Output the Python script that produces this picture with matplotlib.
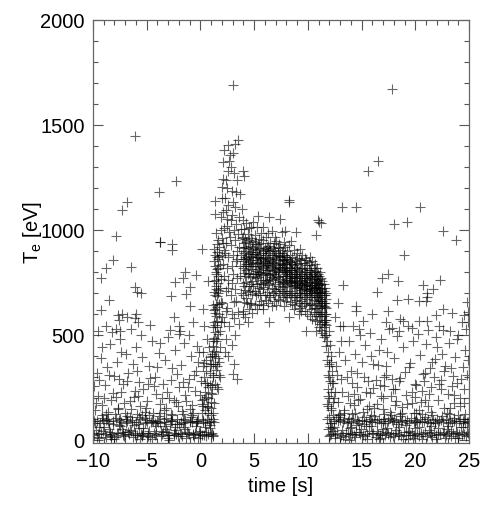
import matplotlib
matplotlib.use('Agg')
from matplotlib import pyplot as plt
from matplotlib.ticker import MultipleLocator

plt.rcParams['font.family'] = ['Liberation Sans', 'DejaVu Sans']
plt.rcParams['mathtext.default'] = 'regular'

# (time [s], Te [eV]), grouped by region

# low noise band before the discharge
pre_band = [
    (-9.9, 22), (-9.6, 88), (-9.3, 31), (-9.1, 95), (-8.8, 15), (-8.5, 78), (-8.2, 27), (-7.9, 102), (-7.7, 35), (-7.4, 84),
    (-7.1, 19), (-6.8, 92), (-6.5, 40), (-6.2, 71), (-5.9, 25), (-5.6, 98), (-5.3, 33), (-5.0, 86), (-4.7, 12), (-4.4, 90),
    (-4.1, 28), (-3.8, 81), (-3.5, 37), (-3.2, 104), (-2.9, 21), (-2.6, 88), (-2.3, 30), (-2.0, 76), (-1.7, 18), (-1.4, 93),
    (-1.1, 26), (-0.8, 85), (-0.5, 34), (-0.2, 99), (0.1, 23), (0.4, 80), (0.7, 29), (1.0, 91), (1.2, 17), (-9.7, 45),
    (-9.4, 8), (-9.0, 62), (-8.7, 100), (-8.4, 36), (-8.0, 5), (-7.6, 93), (-7.3, 50), (-7.0, 28), (-6.6, 110), (-6.3, 14),
    (-6.0, 87), (-5.7, 57), (-5.4, 22), (-5.1, 96), (-4.8, 41), (-4.5, 3), (-4.2, 79), (-3.9, 112), (-3.6, 26), (-3.3, 66),
    (-3.0, 9), (-2.7, 94), (-2.4, 48), (-2.1, 20), (-1.8, 83), (-1.5, 60), (-1.2, 31), (-0.9, 107), (-0.6, 13), (-0.3, 89),
    (0.0, 44), (0.3, 24), (0.6, 97), (0.9, 55), (1.1, 33), (1.3, 86), (-9.8, 78), (-9.5, 30), (-9.2, 105), (-8.9, 27),
    (-8.6, 90), (-8.3, 18), (-8.1, 74), (-7.8, 32), (-7.5, 99), (-7.2, 24), (-6.9, 81), (-6.7, 36), (-6.4, 93), (-6.1, 21),
    (-5.8, 77), (-5.5, 29), (-5.2, 103), (-4.9, 16), (-4.6, 84), (-4.3, 35), (-4.0, 92), (-3.7, 19), (-3.4, 87), (-3.1, 38),
    (-2.8, 75), (-2.5, 23), (-2.2, 98), (-1.9, 34), (-1.6, 82), (-1.3, 11), (-1.0, 91), (-0.7, 27), (-0.4, 78), (-0.1, 37),
    (0.2, 94), (0.5, 20), (0.8, 84), (1.0, 30), (1.2, 101), (-10.0, 33), (-9.95, 92), (-9.65, 15), (-9.35, 82), (-9.05, 40),
    (-8.75, 96), (-8.45, 24), (-8.15, 88), (-7.85, 12), (-7.55, 70), (-7.25, 38), (-6.95, 97), (-6.65, 26), (-6.35, 85), (-6.05, 31),
    (-5.75, 108), (-5.45, 18), (-5.15, 79), (-4.85, 34), (-4.55, 95), (-4.25, 25), (-3.95, 86), (-3.65, 40), (-3.35, 99), (-3.05, 22),
    (-2.75, 88), (-2.45, 32), (-2.15, 77), (-1.85, 27), (-1.55, 100), (-1.25, 36), (-0.95, 83), (-0.65, 21), (-0.35, 92), (-0.05, 29),
    (0.25, 86), (0.55, 38), (0.85, 73), (1.15, 24), (-9.45, 60), (-8.55, 52), (-7.45, 64), (-6.55, 48), (-5.35, 58), (-4.15, 65),
    (-3.25, 54), (-2.35, 63), (-1.45, 50), (-0.45, 67), (0.45, 59), (-9.15, 118), (-7.95, 122), (-6.85, 115), (-5.95, 125), (-4.75, 119),
    (-3.75, 128), (-2.65, 116), (-1.65, 124), (-0.75, 118), (0.15, 127), (0.95, 120), (-8.35, 2), (-5.65, 6), (-2.95, 1), (-0.25, 7),
]

# scatter above the band before the discharge
pre_scatter = [
    (-9.8, 140), (-9.5, 210), (-9.2, 165), (-8.9, 260), (-8.6, 135), (-8.3, 190), (-8.0, 305), (-7.7, 150), (-7.4, 230), (-7.1, 175),
    (-6.8, 280), (-6.5, 145), (-6.2, 205), (-5.9, 330), (-5.6, 160), (-5.3, 240), (-5.0, 185), (-4.7, 295), (-4.4, 130), (-4.1, 220),
    (-3.8, 170), (-3.5, 265), (-3.2, 150), (-2.9, 200), (-2.6, 340), (-2.3, 180), (-2.0, 250), (-1.7, 138), (-1.4, 215), (-1.1, 290),
    (-0.8, 165), (-0.5, 235), (-0.2, 370), (0.1, 190), (0.4, 270), (0.7, 155), (1.0, 225), (1.2, 310), (-9.9, 255), (-9.6, 320),
    (-9.3, 390), (-9.0, 200), (-8.7, 345), (-8.4, 455), (-8.1, 225), (-7.8, 370), (-7.5, 480), (-7.2, 265), (-6.9, 410), (-6.6, 185),
    (-6.3, 360), (-6.0, 440), (-5.7, 275), (-5.4, 395), (-5.1, 150), (-4.8, 350), (-4.5, 470), (-4.2, 300), (-3.9, 415), (-3.6, 200),
    (-3.3, 380), (-3.0, 490), (-2.7, 285), (-2.4, 430), (-2.1, 160), (-1.8, 355), (-1.5, 460), (-1.2, 250), (-0.9, 400), (-0.6, 310),
    (-0.3, 445), (0.0, 215), (0.3, 365), (0.6, 480), (0.9, 260), (1.1, 400), (-9.7, 175), (-8.8, 125), (-7.9, 205), (-7.0, 128),
    (-6.1, 235), (-5.2, 132), (-4.3, 255), (-3.4, 140), (-2.5, 190), (-1.6, 275), (-0.7, 128), (0.2, 160), (1.25, 175), (-9.4, 285),
    (-8.5, 310), (-7.6, 290), (-6.7, 320), (-5.8, 210), (-4.9, 265), (-4.0, 345), (-3.1, 230), (-2.2, 315), (-1.3, 185), (-0.4, 330),
    (0.5, 205), (-9.15, 440), (-7.35, 420), (-5.55, 500), (-3.75, 460), (-1.95, 505), (-0.15, 420), (0.85, 350), (-8.25, 515), (-6.45, 530),
    (-2.85, 525), (0.35, 540), (-9.55, 520), (-4.65, 545), (-1.05, 500), (-7.65, 145), (-5.45, 120), (-2.75, 122), (-0.95, 148), (0.75, 130),
    (0.2, 420), (0.5, 380), (0.8, 440), (1.0, 360), (0.3, 300), (0.6, 270), (0.9, 320), (1.1, 260), (0.4, 230), (0.7, 200),
    (1.0, 180), (0.15, 170), (0.45, 140), (0.75, 250), (1.05, 220), (0.55, 330), (0.85, 395), (1.15, 470), (0.25, 350), (0.95, 150),
    (0.65, 160), (1.2, 130), (0.35, 195), (1.1, 410), (0.05, 280),
]

pre_high = [
    (-7.9, 971), (-8.1, 857), (-8.8, 819), (-9.3, 771), (-6.5, 824), (-3.8, 943), (-2.6, 933), (-2.6, 905), (0.1, 910), (-1.4, 800),
    (-0.4, 786), (-1.6, 771), (-2.4, 752), (0.7, 757), (-6.1, 729), (-5.9, 705), (-5.5, 700), (-1.0, 729), (-1.3, 695), (-2.7, 686),
    (-8.5, 667), (-1.0, 638), (0.2, 624), (-9.3, 619), (-2.5, 586), (-0.7, 562), (-7.7, 595), (-7.3, 600), (-7.6, 570), (-6.8, 585),
    (-6.0, 600), (-6.1, 580), (-5.8, 560), (-8.8, 543), (-7.9, 530), (-7.5, 520), (-2.0, 543), (-1.9, 520),
    (-6.09, 1448), (-3.85, 1181), (-2.27, 1235), (-6.86, 1135), (-7.3, 1097), (-3.76, 944),
]

# rising edge of the discharge
rise_column = [
    (1.18, 300), (1.32, 362), (1.44, 418), (1.22, 483), (1.57, 538), (1.36, 603), (1.48, 647), (1.27, 702), (1.61, 748), (1.41, 801),
    (1.29, 853), (1.53, 897), (1.66, 952), (1.47, 331), (1.63, 392), (1.15, 447), (1.38, 512), (1.58, 568), (1.24, 618), (1.52, 683),
    (1.43, 733), (1.68, 779), (1.34, 828), (1.51, 872), (1.74, 918), (1.42, 983), (1.31, 268), (1.54, 252), (1.69, 308), (1.79, 442),
    (1.86, 518), (1.73, 601), (1.91, 658), (1.78, 722), (1.96, 768), (1.84, 833), (2.02, 882), (2.07, 938), (1.93, 1002), (1.28, 563),
    (1.46, 588), (1.21, 641), (1.39, 689), (1.59, 712), (1.26, 758), (1.49, 792), (1.64, 818), (1.37, 881), (1.56, 933), (1.23, 908),
    (1.62, 862), (1.45, 471), (1.33, 398), (1.55, 351), (1.72, 372), (1.67, 503), (1.88, 562), (1.76, 648), (1.19, 538), (1.35, 622),
    (1.4, 547), (1.57, 633), (1.63, 698), (1.41, 762), (1.53, 812), (1.71, 878), (1.17, 362), (1.3, 421), (1.47, 718), (1.58, 482),
]

# early peak of the discharge
peak = [
    (2.1, 1324), (2.57, 1405), (3.0, 1367), (2.75, 1357), (3.5, 1428), (2.6, 1281), (4.0, 1281), (4.05, 1257), (2.1, 1243), (2.0, 1205),
    (2.5, 1200), (2.9, 1186), (3.7, 1171), (1.36, 1138), (3.0, 1133), (1.36, 1076), (2.1, 1086), (3.9, 1100), (2.3, 1150), (2.6, 1120),
    (3.3, 1180), (2.4, 1240), (2.8, 1300), (3.1, 1270), (2.2, 1380), (1.9, 1060), (2.5, 1050), (2.9, 1070), (3.3, 1030), (3.6, 1060),
    (2.2, 1010), (2.7, 990), (3.1, 1000), (3.5, 980), (2.0, 960), (2.4, 940), (2.8, 930), (3.2, 950), (3.6, 920), (4.1, 940),
    (2.3, 890), (2.6, 870), (3.0, 880), (3.4, 900), (3.8, 880), (2.1, 840), (2.5, 820), (2.9, 830), (3.3, 850), (3.7, 830),
    (4.2, 860), (2.2, 780), (2.6, 760), (3.0, 790), (3.4, 770), (2.4, 710), (2.8, 690), (3.2, 720), (2.0, 650), (2.5, 630),
    (2.9, 600), (3.3, 660), (2.2, 560), (2.7, 540), (3.1, 580), (3.5, 610), (2.4, 480), (2.9, 450), (3.2, 500), (3.0, 314),
    (3.4, 290), (2.6, 400), (3.1, 360), (2.3, 420), (1.8, 300), (1.6, 243), (3.6, 550), (4.0, 600), (4.3, 650), (3.8, 700),
    (3.04, 1690), (3.2, 1410), (2.7, 1330), (3.4, 1240), (2.0, 1150), (2.35, 1095), (2.85, 1045), (3.25, 1110), (2.45, 1020), (3.75, 1005),
    (2.15, 905), (2.75, 965), (3.45, 860), (2.55, 725), (3.15, 655), (2.05, 585), (3.65, 780), (2.95, 745), (2.35, 615), (3.85, 960),
]

# flat-top of the discharge: (time, values at that time)
flattop = [
    (3.95, [1046, 968, 912, 861, 818, 745, 690, 612]),
    (4.06, [1003, 889, 852, 797, 733, 655]),
    (4.18, [958, 921, 873, 826, 781, 716, 583]),
    (4.27, [1031, 942, 899, 838, 807, 752, 677]),
    (4.39, [982, 912, 864, 829, 789, 703, 562]),
    (4.52, [1008, 951, 883, 847, 796, 731, 622]),
    (4.6, [924, 877, 839, 774, 709, 648]),
    (4.71, [1012, 960, 893, 858, 812, 742, 652]),
    (4.83, [947, 908, 871, 826, 758, 697, 603]),
    (4.92, [1037, 918, 886, 844, 792, 733]),
    (5.05, [978, 931, 884, 827, 781, 708, 641]),
    (5.14, [941, 897, 857, 803, 769, 688]),
    (5.26, [1014, 902, 873, 843, 788, 741, 624]),
    (5.33, [1067, 932, 869, 812, 777, 701]),
    (5.45, [958, 912, 882, 829, 798, 722, 648]),
    (5.57, [911, 868, 848, 801, 748, 692]),
    (5.66, [987, 938, 861, 836, 791, 743, 663]),
    (5.78, [1014, 899, 843, 818, 762, 729, 624]),
    (5.87, [951, 891, 868, 822, 787, 718, 641]),
    (5.99, [913, 871, 851, 797, 751, 688]),
    (6.1, [968, 902, 882, 831, 809, 761, 668]),
    (6.19, [921, 858, 834, 793, 758, 702]),
    (6.31, [983, 922, 889, 842, 811, 739, 652]),
    (6.4, [1062, 908, 861, 826, 783, 748, 689, 562]),
    (6.52, [938, 898, 852, 791, 768, 681]),
    (6.63, [995, 879, 842, 822, 778, 721, 638]),
    (6.74, [912, 868, 848, 802, 761, 698]),
    (6.86, [938, 902, 872, 818, 792, 719, 661]),
    (6.97, [967, 901, 839, 812, 771, 741, 688]),
    (7.08, [948, 882, 862, 808, 781, 709, 643]),
    (7.2, [919, 889, 832, 798, 778, 731, 672]),
    (7.31, [931, 878, 858, 821, 801, 752, 698]),
    (7.45, [1052, 912, 878, 842, 822, 768, 719, 668]),
    (7.56, [990, 891, 871, 832, 812, 758, 711]),
    (7.64, [902, 858, 838, 781, 752, 728, 679]),
    (7.77, [941, 881, 861, 822, 802, 748, 701, 638]),
    (7.86, [995, 918, 852, 811, 791, 742, 688]),
    (7.98, [872, 838, 808, 779, 762, 708, 661]),
    (8.09, [898, 861, 841, 799, 779, 732, 681]),
    (8.21, [929, 858, 821, 801, 769, 749, 698, 586]),
    (8.25, [1135, 1142]),
    (8.33, [882, 848, 818, 782, 762, 708, 658]),
    (8.44, [948, 848, 811, 791, 758, 738, 692]),
    (8.55, [871, 838, 808, 772, 752, 701, 648]),
    (8.68, [902, 832, 798, 778, 751, 731, 679, 622]),
    (8.77, [851, 822, 792, 759, 739, 688, 641]),
    (8.9, [990, 868, 818, 788, 771, 722, 668]),
    (9.02, [891, 838, 808, 781, 748, 728, 682]),
    (9.13, [862, 802, 782, 748, 721, 701, 651, 598]),
    (9.26, [911, 841, 781, 761, 728, 698, 682, 629]),
    (9.35, [858, 812, 772, 742, 712, 661, 612]),
    (9.49, [879, 821, 788, 758, 739, 692, 638]),
    (9.6, [842, 801, 771, 752, 719, 698, 652]),
    (9.72, [868, 818, 779, 749, 731, 682, 612]),
    (9.86, [858, 801, 769, 738, 718, 698, 652, 519]),
    (9.95, [832, 792, 762, 741, 708, 671, 601]),
    (10.07, [848, 811, 771, 738, 712, 692, 641]),
    (10.19, [871, 808, 782, 752, 721, 701, 648, 588]),
    (10.3, [832, 798, 778, 731, 711, 679, 622]),
    (10.42, [851, 792, 768, 739, 718, 688, 641, 578]),
    (10.53, [818, 781, 752, 722, 701, 668, 611]),
    (10.65, [838, 801, 781, 748, 728, 682, 628, 571]),
    (10.76, [976, 802, 768, 748, 721, 701, 651, 598, 519]),
    (10.86, [818, 781, 758, 728, 702, 682, 629, 568]),
    (10.95, [1048, 791, 762, 738, 712, 681, 661, 608]),
    (11.06, [1038, 782, 748, 722, 701, 672, 639, 592, 538]),
    (11.17, [801, 768, 738, 702, 688, 652, 598, 552]),
    (11.25, [1033, 771, 742, 718, 682, 661, 628, 591, 522]),
    (11.36, [758, 722, 698, 661, 641, 608, 561, 511]),
    (11.47, [742, 711, 688, 652, 639, 592, 562, 538, 491]),
    (11.58, [721, 691, 652, 632, 598, 571, 552, 501]),
    (11.68, [701, 672, 628, 598, 573, 548, 501, 448]),
]

# falling edge
fall_column = [
    (11.8, 470), (11.9, 420), (11.75, 380), (12.0, 350), (11.85, 310), (12.1, 280), (11.9, 240), (12.0, 200), (11.8, 170), (12.15, 140),
    (11.95, 110), (12.05, 80), (11.85, 50), (12.0, 20), (12.2, 400), (12.1, 450), (11.95, 520), (12.25, 330), (12.2, 230), (11.9, 160),
    (12.1, 60), (11.8, 100), (12.3, 180), (12.25, 270), (12.0, 300), (11.85, 210), (12.15, 370), (12.3, 120), (11.95, 360), (12.2, 30),
]

# low noise band after the discharge
post_band = [
    (12.1, 25), (12.4, 88), (12.7, 33), (13.0, 95), (13.3, 18), (13.6, 82), (13.9, 29), (14.2, 101), (14.5, 36), (14.8, 78),
    (15.1, 22), (15.4, 91), (15.7, 40), (16.0, 85), (16.3, 14), (16.6, 97), (16.9, 31), (17.2, 80), (17.5, 26), (17.8, 93),
    (18.1, 35), (18.4, 76), (18.7, 19), (19.0, 89), (19.3, 38), (19.6, 104), (19.9, 24), (20.2, 83), (20.5, 32), (20.8, 92),
    (21.1, 16), (21.4, 79), (21.7, 37), (22.0, 98), (22.3, 27), (22.6, 86), (22.9, 21), (23.2, 94), (23.5, 34), (23.8, 81),
    (24.1, 28), (24.4, 90), (24.7, 19), (24.95, 85), (12.25, 55), (12.55, 8), (12.85, 110), (13.15, 46), (13.45, 3), (13.75, 92),
    (14.05, 60), (14.35, 12), (14.65, 88), (14.95, 52), (15.25, 107), (15.55, 5), (15.85, 68), (16.15, 115), (16.45, 43), (16.75, 9),
    (17.05, 101), (17.35, 58), (17.65, 14), (17.95, 86), (18.25, 47), (18.55, 112), (18.85, 6), (19.15, 71), (19.45, 40), (19.75, 10),
    (20.05, 95), (20.35, 62), (20.65, 4), (20.95, 108), (21.25, 49), (21.55, 13), (21.85, 84), (22.15, 57), (22.45, 112), (22.75, 7),
    (23.05, 66), (23.35, 44), (23.65, 103), (23.95, 11), (24.25, 59), (24.55, 99), (24.85, 36), (12.2, 80), (12.5, 30), (12.8, 90),
    (13.1, 24), (13.4, 97), (13.7, 35), (14.0, 83), (14.3, 22), (14.6, 95), (14.9, 30), (15.2, 77), (15.5, 26), (15.8, 99),
    (16.1, 32), (16.4, 84), (16.7, 23), (17.0, 90), (17.3, 37), (17.6, 102), (17.9, 18), (18.2, 88), (18.5, 28), (18.8, 94),
    (19.1, 21), (19.4, 80), (19.7, 33), (20.0, 91), (20.3, 17), (20.6, 86), (20.9, 39), (21.2, 97), (21.5, 25), (21.8, 82),
    (22.1, 30), (22.4, 93), (22.7, 36), (23.0, 79), (23.3, 20), (23.6, 88), (23.9, 33), (24.2, 100), (24.5, 27), (24.8, 87),
    (12.35, 40), (12.65, 100), (12.95, 15), (13.25, 85), (13.55, 31), (13.85, 106), (14.15, 26), (14.45, 73), (14.75, 38), (15.05, 96),
    (15.35, 20), (15.65, 89), (15.95, 35), (16.25, 94), (16.55, 28), (16.85, 79), (17.15, 22), (17.45, 91), (17.75, 34), (18.05, 99),
    (18.35, 25), (18.65, 84), (18.95, 37), (19.25, 96), (19.55, 23), (19.85, 87), (20.15, 30), (20.45, 101), (20.75, 26), (21.05, 83),
    (21.35, 33), (21.65, 95), (21.95, 21), (22.25, 88), (22.55, 34), (22.85, 97), (23.15, 27), (23.45, 85), (23.75, 38), (24.05, 92),
    (24.35, 22), (24.65, 80), (24.9, 31), (13.0, 120), (14.4, 126), (15.9, 118), (17.1, 124), (18.6, 121), (20.1, 127), (21.6, 119),
    (23.1, 125), (24.6, 122), (12.45, 63), (13.95, 55), (15.45, 64), (16.95, 52), (18.45, 61), (19.95, 57), (21.45, 65), (22.95, 50),
    (24.45, 60), (19.3, 2), (16.6, 5), (21.9, 3), (23.7, 7), (13.8, 1), (12.9, 122), (24.0, 118), (20.6, 123), (17.7, 117),
]

post_scatter = [
    (12.2, 150), (12.5, 230), (12.8, 180), (13.1, 290), (13.4, 140), (13.7, 210), (14.0, 330), (14.3, 165), (14.6, 250), (14.9, 195),
    (15.2, 300), (15.5, 145), (15.8, 225), (16.1, 360), (16.4, 170), (16.7, 260), (17.0, 200), (17.3, 310), (17.6, 135), (17.9, 240),
    (18.2, 185), (18.5, 280), (18.8, 155), (19.1, 215), (19.4, 345), (19.7, 175), (20.0, 265), (20.3, 140), (20.6, 235), (20.9, 320),
    (21.2, 160), (21.5, 250), (21.8, 385), (22.1, 190), (22.4, 285), (22.7, 150), (23.0, 220), (23.3, 340), (23.6, 175), (23.9, 270),
    (24.2, 160), (24.5, 240), (24.8, 310), (12.3, 270), (12.6, 350), (12.9, 420), (13.2, 230), (13.5, 380), (13.8, 470), (14.1, 270),
    (14.4, 410), (14.7, 190), (15.0, 370), (15.3, 450), (15.6, 280), (15.9, 400), (16.2, 150), (16.5, 355), (16.8, 480), (17.1, 300),
    (17.4, 420), (17.7, 210), (18.0, 390), (18.3, 495), (18.6, 295), (18.9, 440), (19.2, 170), (19.5, 365), (19.8, 470), (20.1, 260),
    (20.4, 405), (20.7, 315), (21.0, 455), (21.3, 220), (21.6, 370), (21.9, 490), (22.2, 265), (22.5, 410), (22.8, 350), (23.1, 460),
    (23.4, 255), (23.7, 395), (24.0, 500), (24.3, 290), (24.6, 430), (24.9, 380), (12.45, 200), (13.35, 130), (14.25, 220), (15.15, 135),
    (16.05, 245), (16.95, 145), (17.85, 290), (18.75, 130), (19.65, 230), (20.55, 180), (21.45, 135), (22.35, 240), (23.25, 150), (24.15, 200),
    (12.75, 310), (13.65, 300), (14.55, 320), (15.45, 230), (16.35, 285), (17.25, 350), (18.15, 240), (19.05, 325), (19.95, 205), (20.85, 280),
    (21.75, 300), (22.65, 330), (23.55, 305), (24.45, 345), (13.05, 470), (14.85, 500), (16.65, 430), (18.45, 520), (20.25, 505), (22.05, 440),
    (23.85, 480), (24.75, 530), (15.75, 510), (17.55, 530), (19.35, 540), (21.15, 525), (12.95, 540), (24.35, 560), (14.15, 125), (19.85, 128),
    (22.95, 126), (16.85, 210), (20.95, 190), (24.55, 175), (13.9, 175), (18.1, 165), (21.35, 340), (15.65, 160), (23.65, 215), (17.05, 255),
]

post_high = [
    (13.25, 738), (16.9, 771), (17.5, 790), (18.4, 757), (16.4, 706), (20.7, 738), (22.3, 763), (21.66, 719), (21.1, 700), (21.1, 680),
    (21.0, 662), (18.3, 668), (19.3, 671), (20.3, 663), (24.8, 657), (12.8, 652), (14.5, 638), (14.5, 614), (17.5, 614), (16.0, 600),
    (22.6, 624), (23.4, 605), (24.5, 595), (12.5, 586), (15.1, 567), (18.6, 576), (20.3, 567), (21.1, 567), (21.9, 595), (13.3, 543),
    (14.2, 540), (14.8, 530), (17.3, 562), (17.8, 533), (18.9, 567), (19.7, 533), (22.2, 540), (22.6, 525), (23.2, 518), (18.96, 882),
    (22.56, 997), (23.8, 954), (15.6, 1282), (16.5, 1328), (17.8, 1671), (13.15, 1111), (14.5, 1111), (20.4, 1109), (18.0, 1029), (19.2, 1038),
    (24.9, 560), (24.9, 610),
]

times = []
temps = []
for group in [pre_band, pre_scatter, pre_high, rise_column, peak, fall_column, post_band, post_scatter, post_high]:
    for t, te in group:
        times.append(t)
        temps.append(te)
for t, values in flattop:
    for te in values:
        times.append(t)
        temps.append(te)

fig = plt.figure(figsize=(5.03, 5.10), dpi=100)
ax = fig.add_axes([93 / 503, 1 - 444 / 510, 376 / 503, 423 / 510])

ax.plot(times, temps, linestyle='none', marker='+', markersize=6.5,
        markeredgewidth=0.8, color='black', alpha=0.6)

ax.set_xlim(-10, 25)
ax.set_ylim(-15, 2000)
ax.xaxis.set_major_locator(MultipleLocator(5))
ax.xaxis.set_minor_locator(MultipleLocator(1))
ax.yaxis.set_major_locator(MultipleLocator(500))
ax.yaxis.set_minor_locator(MultipleLocator(100))
ax.tick_params(which='both', direction='in', top=True, right=True, color='#555555', width=0.8)
ax.tick_params(which='major', length=7, labelsize=14.5, pad=6)
ax.tick_params(which='minor', length=3.5)
for spine in ax.spines.values():
    spine.set_color('#666666')
    spine.set_linewidth(0.9)

ax.set_xlabel('time [s]', fontsize=14.5, labelpad=4)
ax.set_ylabel('T$_e$ [eV]', fontsize=14.5, labelpad=-3)

plt.savefig('out.png', dpi=100)
